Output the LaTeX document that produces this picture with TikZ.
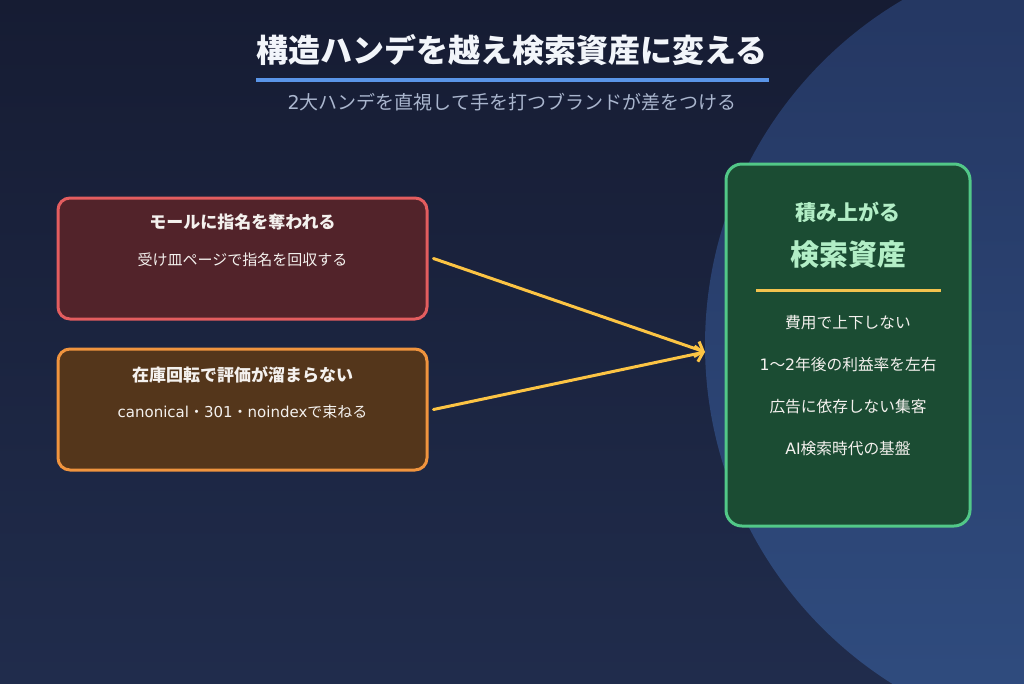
\documentclass[tikz,border=0pt]{standalone}
\usepackage{fontspec}
\setmainfont{Noto Sans CJK JP}
\newfontfamily\latn{DejaVu Sans}
\usetikzlibrary{arrows.meta}
\definecolor{bgtop}{HTML}{161C33}
\definecolor{bgbot}{HTML}{202C4C}
\definecolor{circA}{HTML}{243661}
\definecolor{circB}{HTML}{304D80}
\definecolor{titlec}{HTML}{F2F5FA}
\definecolor{subc}{HTML}{AAB6CE}
\definecolor{ulc}{HTML}{5A95E8}
\definecolor{redb}{HTML}{E35D5F}
\definecolor{redf}{HTML}{52232A}
\definecolor{orab}{HTML}{F0943E}
\definecolor{oraf}{HTML}{54361B}
\definecolor{grnb}{HTML}{52C888}
\definecolor{grnf}{HTML}{1B4C33}
\definecolor{grnt}{HTML}{B2EEC6}
\definecolor{yel}{HTML}{FCC444}
\definecolor{sepc}{HTML}{F2C24E}
\definecolor{boxt}{HTML}{F4F1EE}
\tikzset{
  leftbox/.style={draw, line width=3pt, rounded corners=12pt, minimum width=369pt, minimum height=121pt, inner sep=0pt},
  bigbox/.style={draw=grnb, fill=grnf, line width=3pt, rounded corners=16pt, minimum width=244pt, minimum height=362pt, inner sep=0pt},
  boxtitle/.style={text=boxt, font=\bfseries\fontsize{17}{20}\selectfont, inner sep=0pt},
  boxsub/.style={text=boxt, font=\fontsize{15}{18}\selectfont, inner sep=0pt},
  itemtxt/.style={text=boxt, font=\fontsize{15.7}{19}\selectfont, inner sep=0pt},
  flow/.style={draw=yel, line width=3pt, line cap=round, -{Straight Barb[length=7pt,width=16pt,line width=3pt]}}
}
\begin{document}
\begin{tikzpicture}[x=1pt,y=-1pt]
\useasboundingbox (0,0) rectangle (1024,683);
\begin{scope}
\clip (0,0) rectangle (1024,683);
\shade[top color=bgtop, bottom color=bgbot] (0,0) rectangle (1024,683);
\shade[top color=circA, bottom color=circB] (1105,345) circle (400);
\end{scope}
% title
\node[text=titlec, font=\bfseries\fontsize{32}{38}\selectfont, inner sep=0pt] (title) at (512,50) {構造ハンデを越え検索資産に変える};
\draw[ulc, line width=4pt] (256,80) -- (769,80);
\node[text=subc, font=\fontsize{19}{22}\selectfont, inner sep=0pt] (subtitle) at (512,102) {{\latn 2}大ハンデを直視して手を打つブランドが差をつける};
% left boxes
\node[leftbox, draw=redb, fill=redf] (b1) at (242.5,258.5) {};
\node[boxtitle] (b1t) at (242.5,222) {モールに指名を奪われる};
\node[boxsub] (b1s) at (242.5,260) {受け皿ページで指名を回収する};
\node[leftbox, draw=orab, fill=oraf] (b2) at (242.5,409.5) {};
\node[boxtitle] (b2t) at (242.5,375) {在庫回転で評価が溜まらない};
\node[boxsub] (b2s) at (242.5,412) {{\latn canonical}・{\latn 301}・{\latn noindex}で束ねる};
% right box
\node[bigbox] (r) at (848,345) {};
\node[text=grnt, font=\bfseries\fontsize{21}{25}\selectfont, inner sep=0pt] (rt1) at (848,212) {積み上がる};
\node[text=grnt, font=\bfseries\fontsize{29}{34}\selectfont, inner sep=0pt] (rt2) at (848,255) {検索資産};
\draw[sepc, line width=3pt] (756,290) -- (941,290);
\node[itemtxt] (i1) at (848,323) {費用で上下しない};
\node[itemtxt] (i2) at (848,365) {{\latn 1}〜{\latn 2}年後の利益率を左右};
\node[itemtxt] (i3) at (848,407) {広告に依存しない集客};
\node[itemtxt] (i4) at (848,449) {{\latn AI}検索時代の基盤};
% arrows
\coordinate (hub) at (705,352);
\draw[flow] ([xshift=5pt]b1.east) -- (hub);
\draw[flow] ([xshift=5pt]b2.east) -- (hub);
\end{tikzpicture}
\end{document}
